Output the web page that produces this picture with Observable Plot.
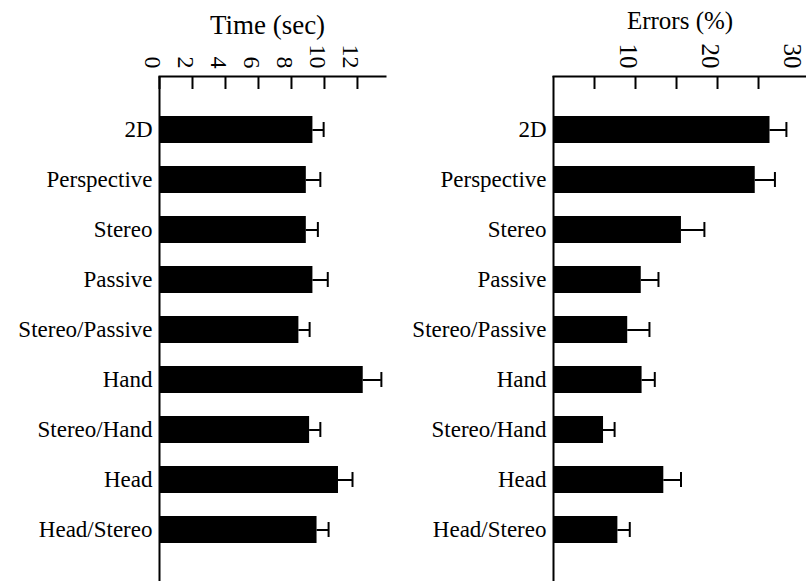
<!DOCTYPE html>
<html><head><meta charset="utf-8">
<script src="https://cdn.jsdelivr.net/npm/d3@7"></script>
<script src="https://cdn.jsdelivr.net/npm/@observablehq/plot@0.6"></script>
<style>body{margin:0;background:#fff}#c{display:flex;width:806px;height:581px}</style>
</head><body><div id="c"></div>
<script>
const conditions = ["2D","Perspective","Stereo","Passive","Stereo/Passive","Hand","Stereo/Hand","Head","Head/Stereo"];
const timeMean = [9.3, 8.9, 8.9, 9.3, 8.45, 12.35, 9.1, 10.85, 9.55];
const timeErr = [0.65, 0.85, 0.7, 0.9, 0.65, 1.1, 0.65, 0.85, 0.7];
const errorMean = [26.4, 24.6, 15.6, 10.7, 9.05, 10.8, 6.1, 13.45, 7.85];
const errorErr = [2.0, 2.4, 2.8, 2.1, 2.65, 1.55, 1.35, 2.1, 1.45];
const timeTicks = [0, 2, 4, 6, 8, 10, 12];
const timeLabels = [0, 2, 4, 6, 8, 10, 12];
const errorTicks = [5, 10, 15, 20, 25];
const errorLabels = [10, 20, 30];

const FONT = "'Liberation Serif', 'Times New Roman', serif";

function panel({width, marginLeft, marginRight, xMax, title, titleSize, titleDx, titleDy, mean, err, ticks, labels, labelSize, labelDx}) {
  const rows = conditions.map((c, i) => ({cond: c, mean: mean[i], end: mean[i] + err[i]}));
  return Plot.plot({
    width, height: 581,
    marginLeft, marginRight, marginTop: 76, marginBottom: 0,
    style: {fontFamily: FONT, fontSize: "23px", background: "white", color: "black"},
    x: {domain: [0, xMax], axis: null},
    y: {domain: conditions, range: [101.75, 556.25], paddingInner: 0.46, paddingOuter: 0.23, axis: null, label: null},
    marks: [
      Plot.barX(rows, {x: "mean", y: "cond", fill: "black"}),
      Plot.ruleY(rows, {y: "cond", x1: "mean", x2: "end", strokeWidth: 2}),
      Plot.tickX(rows, {x: "end", y: "cond", strokeWidth: 2, insetTop: 6, insetBottom: 6}),
      Plot.ruleX([0], {strokeWidth: 2}),
      Plot.frame({anchor: "top", strokeWidth: 2}),
      Plot.axisX(ticks, {anchor: "top", tickSize: -12, tickFormat: () => "", strokeWidth: 2, label: null}),
      Plot.text(labels, {x: d => d, text: d => String(d), frameAnchor: "top", rotate: 90, textAnchor: "end", lineAnchor: "middle",
        dy: -8, dx: labelDx, fontSize: labelSize, fontFamily: FONT}),
      Plot.axisY({tickSize: 0, tickPadding: 7, fontSize: 23, fontFamily: FONT, label: null}),
      Plot.text([title], {frameAnchor: "top", text: d => d, dx: titleDx, dy: titleDy, fontSize: titleSize, fontFamily: FONT, lineAnchor: "bottom"})
    ]
  });
}

const c = document.getElementById("c");
c.appendChild(panel({width: 395, marginLeft: 159, marginRight: 10, xMax: 13.7, title: "Time (sec)", titleSize: 27, titleDx: -5, titleDy: -43,
  mean: timeMean, err: timeErr, ticks: timeTicks, labels: timeLabels, labelSize: 24, labelDx: -7}));
c.appendChild(panel({width: 411, marginLeft: 158, marginRight: 0, xMax: 30.85, title: "Errors (%)", titleSize: 25, titleDx: 0, titleDy: -48,
  mean: errorMean, err: errorErr, ticks: errorTicks, labels: errorLabels, labelSize: 25, labelDx: -8}));
</script>
</body></html>
